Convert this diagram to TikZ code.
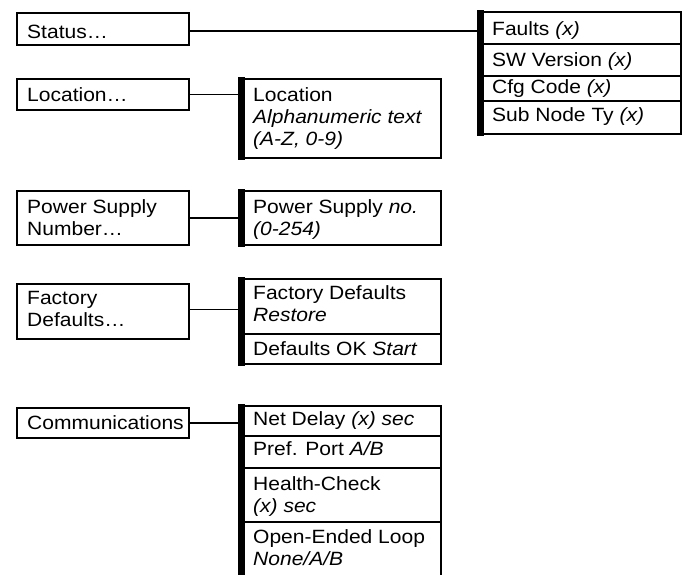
\documentclass[tikz,border=0pt]{standalone}
\usepackage{fontspec}
\setmainfont{Liberation Sans}[FakeStretch=1.095]
\newcommand\mystrut{\rule{0pt}{15pt}}
\begin{document}
\begin{tikzpicture}[x=1pt,y=-1pt,
  lbox/.style={draw, line width=1.9pt, anchor=north west, inner sep=0pt, minimum width=172pt},
  mbox/.style={draw, line width=1.9pt, anchor=north west, inner sep=0pt, minimum width=201pt},
  sbox/.style={draw, line width=1.9pt, anchor=north west, inner sep=0pt, minimum width=202pt},
  conn/.style={line width=1.9pt},
  txt/.style={anchor=north west, inner sep=0pt, align=left, font=\fontsize{19.2}{22}\selectfont},
  bar/.style={fill=black}]
\useasboundingbox (0,0) rectangle (690,574);

% left column
\node[lbox, minimum height=32pt] (st) at (16,12) {};
\node[lbox, minimum height=31pt] (lo) at (16,78) {};
\node[lbox, minimum height=54pt] (ps) at (16,190) {};
\node[lbox, minimum height=55pt] (fd) at (16,283) {};
\node[lbox, minimum height=30pt] (co) at (16,407) {};

% middle column
\node[mbox, minimum height=79pt] (l1) at (239,78) {};
\node[mbox, minimum height=54pt] (p1) at (239,190) {};
\node[mbox, minimum height=55pt] (f1) at (239,278) {};
\node[mbox, minimum height=30pt] (f2) at (239,333) {};
\node[mbox, minimum height=30pt] (c1) at (239,405) {};
\node[mbox, minimum height=32pt] (c2) at (239,435) {};
\node[mbox, minimum height=54pt] (c3) at (239,467) {};
\node[mbox, minimum height=57pt] (c4) at (239,521) {};

% status list
\node[sbox, minimum height=32pt] (s1) at (478,11) {};
\node[sbox, minimum height=32pt] (s2) at (478,43) {};
\node[sbox, minimum height=25pt] (s3) at (478,75) {};
\node[sbox, minimum height=33pt] (s4) at (478,100) {};

% thick left bars
\fill[bar] ([xshift=-1pt,yshift=0.95pt]l1.north west) rectangle ([xshift=5.5pt,yshift=-0.95pt]l1.south west);
\fill[bar] ([xshift=-1pt,yshift=0.95pt]p1.north west) rectangle ([xshift=5.5pt,yshift=-0.95pt]p1.south west);
\fill[bar] ([xshift=-1pt,yshift=0.95pt]f1.north west) rectangle ([xshift=5.5pt,yshift=-0.95pt]f2.south west);
\fill[bar] ([xshift=-1pt,yshift=0.95pt]c1.north west) rectangle ([xshift=5.5pt,yshift=-0.95pt]c4.south west);
\fill[bar] ([xshift=-1pt,yshift=0.95pt]s1.north west) rectangle ([xshift=5.5pt,yshift=-0.95pt]s4.south west);

% connectors
\draw[conn] ([yshift=-2pt]st.east) -- ([yshift=-2pt]st.east -| s1.west);
\draw[conn] (lo.east) -- (lo.east -| l1.west);
\draw[conn] (ps.east) -- (ps.east -| p1.west);
\draw[conn] ([yshift=2pt]fd.east) -- ([yshift=2pt]fd.east -| f1.west);
\draw[conn] (co.east) -- (co.east -| c1.west);

% texts left
\node[txt] (t-st) at (27,23) {\mystrut Status…};
\node[txt] (t-lo) at (27,86) {\mystrut Location…};
\node[txt] (t-ps) at (27,198) {\mystrut Power Supply\\Number…};
\node[txt] (t-fd) at (27,289) {\mystrut Factory\\Defaults…};
\node[txt] (t-co) at (27,414) {\mystrut Communications};

% texts middle
\node[txt] (t-l1) at (253,86) {\mystrut Location\\\textit{Alphanumeric text}\\\textit{(A-Z, 0-9)}};
\node[txt] (t-p1) at (253,198) {\mystrut Power Supply \textit{no.}\\\textit{(0-254)}};
\node[txt] (t-f1) at (253,284) {\mystrut Factory Defaults\\\textit{Restore}};
\node[txt] (t-f2) at (253,340) {\mystrut Defaults OK \textit{Start}};
\node[txt] (t-c1) at (253,410) {\mystrut Net Delay \textit{(x) sec}};
\node[txt] (t-c2) at (253,440) {\mystrut Pref. Port \textit{A/B}};
\node[txt] (t-c3) at (253,475) {\mystrut Health-Check\\\textit{(x) sec}};
\node[txt] (t-c4) at (253,528) {\mystrut Open-Ended Loop\\\textit{None/A/B}};

% texts status list
\node[txt] (t-s1) at (492,20) {\mystrut Faults \textit{(x)}};
\node[txt] (t-s2) at (492,51) {\mystrut SW Version \textit{(x)}};
\node[txt] (t-s3) at (492,78) {\mystrut Cfg Code \textit{(x)}};
\node[txt] (t-s4) at (492,106) {\mystrut Sub Node Ty \textit{(x)}};
\end{tikzpicture}
\end{document}
